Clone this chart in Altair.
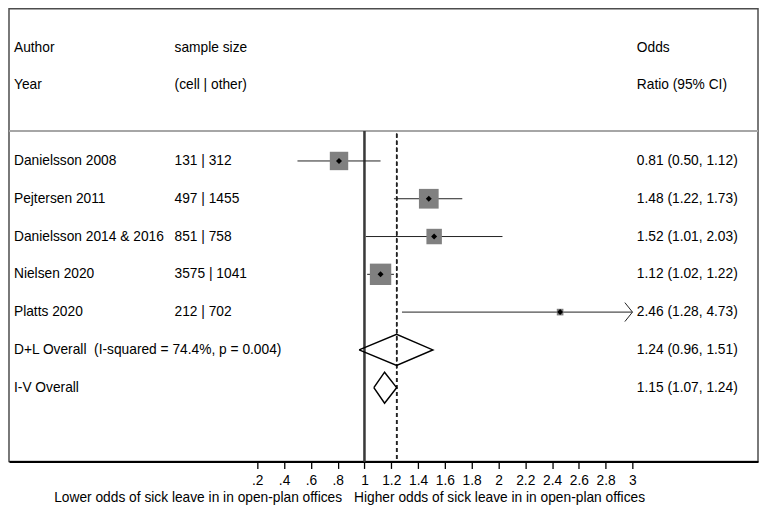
import altair as alt
import pandas as pd

# ---------------- data ----------------
authors = ["Danielsson 2008", "Pejtersen 2011", "Danielsson 2014 & 2016",
           "Nielsen 2020", "Platts 2020"]
samples = ["131 | 312", "497 | 1455", "851 | 758", "3575 | 1041", "212 | 702"]
or_est = [0.81, 1.48, 1.52, 1.12, 2.46]
ci_lo = [0.50, 1.22, 1.01, 1.02, 1.28]
ci_hi = [1.12, 1.73, 2.03, 1.22, 4.73]
weights = [23.1, 26.5, 16.3, 31.2, 3.0]

ov_labels = ["D+L Overall\u00a0 (I-squared = 74.4%, p = 0.004)", "I-V Overall"]
ov_est = [1.24, 1.15]
ov_lo = [0.96, 1.07]
ov_hi = [1.51, 1.24]

header1 = ["Author", "sample size", "Odds"]
header2 = ["Year", "(cell | other)", "Ratio (95% CI)"]

tick_values = [0.2, 0.4, 0.6, 0.8, 1.0, 1.2, 1.4, 1.6, 1.8, 2.0,
               2.2, 2.4, 2.6, 2.8, 3.0]
axis_max = 3.0
left_title = "Lower odds of sick leave in in open-plan offices"
right_title = "Higher odds of sick leave in in open-plan offices"

# ---------------- layout ----------------
W, H = 751, 454
FONT = "Liberation Sans"
FS = 13.8
study_rows = [3, 4, 5, 6, 7]
ov_rows = [8, 9]
sep_row = 2.206
bottom_row = 10.953

xs = alt.Scale(domain=[-1.653, 3.937], nice=False, zero=False)
ys = alt.Scale(domain=[-1.031, bottom_row], reverse=True, nice=False, zero=False)
xaxis = alt.Axis(values=tick_values, title=None, grid=False,
                 labelExpr="datum.value < 1 ? replace(format(datum.value, '.1f'), '0.', '.') : format(datum.value, '~g')",
                 domainColor="black", domainWidth=2, tickColor="black",
                 tickWidth=1.3, tickSize=7, labelFont=FONT, labelFontSize=13.8,
                 labelColor="black", labelPadding=5, labelFlush=False)


def X(field=None, **kw):
    if field is None:
        return alt.X(scale=xs, axis=xaxis, **kw)
    return alt.X(field, scale=xs, axis=xaxis, **kw)


def Y(field=None, **kw):
    if field is None:
        return alt.Y(scale=ys, axis=None, **kw)
    return alt.Y(field, scale=ys, axis=None, **kw)


studies = pd.DataFrame({
    "row": study_rows, "author": authors, "est": or_est, "lo": ci_lo,
    "hi": ci_hi, "w": weights,
})
studies["hi_c"] = studies["hi"].clip(upper=axis_max)
arrows = studies[studies["hi"] > axis_max]

# diamonds for overall estimates
dpts = []
h = 0.41
for r, e, lo, hi, lab in zip(ov_rows, ov_est, ov_lo, ov_hi, ov_labels):
    pts = [(lo, r), (e, r - h), (hi, r), (e, r + h), (lo, r)]
    for k, (px, py) in enumerate(pts):
        dpts.append({"lab": lab, "k": k, "x": px, "y": py})
diam = pd.DataFrame(dpts)

fmt = [f"{e:.2f} ({lo:.2f}, {hi:.2f})" for e, lo, hi in zip(or_est, ci_lo, ci_hi)]
fmt_ov = [f"{e:.2f} ({lo:.2f}, {hi:.2f})" for e, lo, hi in zip(ov_est, ov_lo, ov_hi)]
texts = pd.DataFrame({
    "row": [0, 1] + study_rows + ov_rows,
    "c1": [header1[0], header2[0]] + authors + ov_labels,
    "c2": [header1[1], header2[1]] + samples + ["", ""],
    "c3": [header1[2], header2[2]] + fmt + fmt_ov,
})

base_study = alt.Chart(studies)

sep = alt.Chart(studies).mark_rule(color="#a6a6a6", strokeWidth=2).encode(
    y=Y(datum=sep_row))
null_line = alt.Chart(studies).mark_rule(color="#3a3a3a", strokeWidth=1.5).encode(
    x=X(datum=1), y=Y(datum=sep_row), y2=alt.Y2(datum=bottom_row))
dash_line = alt.Chart(studies).mark_rule(color="#222", strokeWidth=1.3,
                                         strokeDash=[4, 3]).encode(
    x=X(datum=ov_est[0]), y=Y(datum=2.28), y2=alt.Y2(datum=bottom_row))

ci = base_study.mark_rule(color="#222", strokeWidth=1).encode(
    x=X("lo:Q"), x2="hi_c:Q", y=Y("row:Q"))
boxes = base_study.mark_square(color="#808080", opacity=1).encode(
    x=X("est:Q"), y=Y("row:Q"),
    size=alt.Size("w:Q", scale=alt.Scale(domain=[0, 100], range=[0, 1475]),
                  legend=None))
dots = base_study.mark_point(shape="diamond", filled=True, color="black",
                             size=36, opacity=1).encode(
    x=X("est:Q"), y=Y("row:Q"))
arrow = alt.Chart(arrows).mark_point(shape="M-0.8,-1L0,0L-0.8,1", filled=False,
                                     color="#222", strokeWidth=1, size=361,
                                     opacity=1).encode(
    x=X("hi_c:Q"), y=Y("row:Q"))
diamonds = alt.Chart(diam).mark_line(color="black", strokeWidth=1.5).encode(
    x=X("x:Q"), y=Y("y:Q"), detail="lab:N", order="k:Q")

tbase = alt.Chart(texts)
t1 = tbase.mark_text(align="left", baseline="middle", font=FONT, fontSize=FS,
                     color="black").encode(x=alt.value(5), y=Y("row:Q"), text="c1:N")
t2 = tbase.mark_text(align="left", baseline="middle", font=FONT, fontSize=FS,
                     color="black").encode(x=alt.value(166), y=Y("row:Q"), text="c2:N")
t3 = tbase.mark_text(align="left", baseline="middle", font=FONT, fontSize=FS,
                     color="black").encode(x=alt.value(629.5), y=Y("row:Q"), text="c3:N")

titles = pd.DataFrame({"t": [left_title, right_title]})
tl = alt.Chart(titles.iloc[[0]]).mark_text(align="right", baseline="middle",
                                          font=FONT, fontSize=FS, color="black").encode(
    x=alt.value(334), y=alt.value(H + 36.5), text="t:N")
tr = alt.Chart(titles.iloc[[1]]).mark_text(align="left", baseline="middle",
                                          font=FONT, fontSize=FS, color="black").encode(
    x=alt.value(346), y=alt.value(H + 36.5), text="t:N")

chart = alt.layer(sep, null_line, dash_line, ci, boxes, dots, arrow, diamonds,
                  t1, t2, t3, tl, tr).properties(
    width=W, height=H, padding=0, background="white"
).configure_view(stroke="#4d4d4d", strokeWidth=1.5)

chart.save("out.html", embed_options={"renderer": "svg", "actions": False})
